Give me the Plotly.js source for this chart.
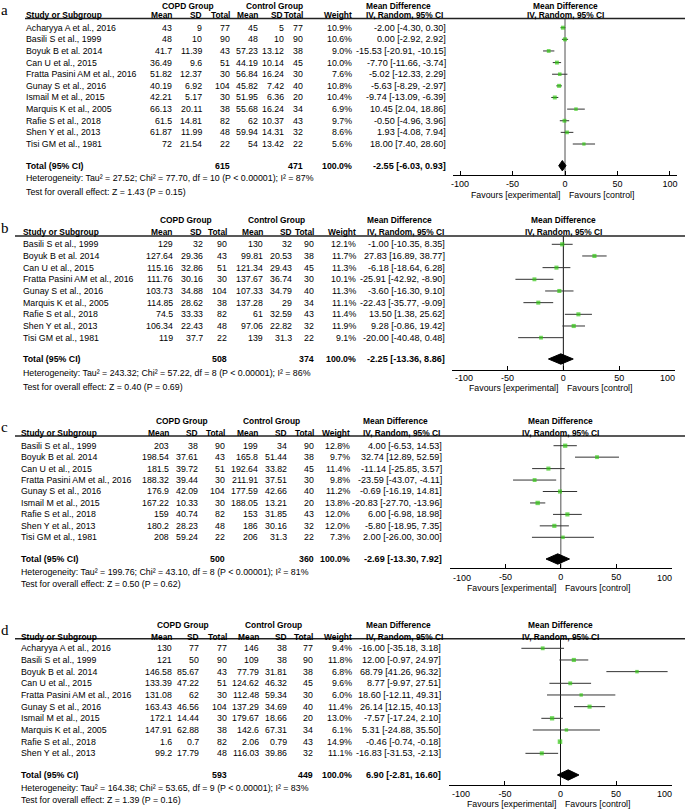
<!DOCTYPE html>
<html><head><meta charset="utf-8">
<script src="https://cdn.plot.ly/plotly-3.0.1.min.js"></script>
<style>html,body{margin:0;padding:0;background:#fff;}#chart{width:685px;height:809px;}</style>
</head><body><div id="chart"></div>
<script>
// ---------- Panel a ----------
const a_studies = ["Acharyya A et al., 2016","Basili S et al., 1999","Boyuk B et al. 2014","Can U et al., 2015","Fratta Pasini AM et al., 2016","Gunay S et al., 2016","Ismail M et al., 2015","Marquis K et al., 2005","Rafie S et al., 2018","Shen Y et al., 2013","Tisi GM et al., 1981"];
const a_copdMean = [43,48,41.7,36.49,51.82,40.19,42.21,66.13,61.5,61.87,72];
const a_copdSD   = [9,10,11.39,9.6,12.37,6.92,5.17,20.11,14.81,11.99,21.54];
const a_copdN    = [77,90,43,51,30,104,30,38,82,48,22];
const a_ctrlMean = [45,48,57.23,44.19,56.84,45.82,51.95,55.68,62,59.94,54];
const a_ctrlSD   = [5,10,13.12,10.14,16.24,7.42,6.36,16.24,10.37,14.31,13.42];
const a_ctrlN    = [77,90,38,45,30,40,20,34,43,32,22];
const a_weight   = [10.9,10.6,9.0,10.0,7.6,10.8,10.4,6.9,9.7,8.6,5.6];
const a_md       = [-2.00,0.00,-15.53,-7.70,-5.02,-5.63,-9.74,10.45,-0.50,1.93,18.00];
const a_lo       = [-4.30,-2.92,-20.91,-11.66,-12.33,-8.29,-13.09,2.04,-4.96,-4.08,7.40];
const a_hi       = [0.30,2.92,-10.15,-3.74,2.29,-2.97,-6.39,18.86,3.96,7.94,28.60];
const a_totalN   = [615,471];
const a_totalMD  = [-2.55,-6.03,0.93];
const a_stats    = ["Heterogeneity: Tau² = 27.52; Chi² = 77.70, df = 10 (P < 0.00001); I² = 87%","Test for overall effect: Z = 1.43 (P = 0.15)"];

// ---------- Panel b ----------
const b_studies = ["Basili S et al., 1999","Boyuk B et al. 2014","Can U et al., 2015","Fratta Pasini AM et al., 2016","Gunay S et al., 2016","Marquis K et al., 2005","Rafie S et al., 2018","Shen Y et al., 2013","Tisi GM et al., 1981"];
const b_copdMean = [129,127.64,115.16,111.76,103.73,114.85,74.5,106.34,119];
const b_copdSD   = [32,29.36,32.86,30.16,34.88,28.62,33.33,22.43,37.7];
const b_copdN    = [90,43,51,30,104,38,82,48,22];
const b_ctrlMean = [130,99.81,121.34,137.67,107.33,137.28,61,97.06,139];
const b_ctrlSD   = [32,20.53,29.43,36.74,34.79,29,32.59,22.82,31.3];
const b_ctrlN    = [90,38,45,30,40,34,43,32,22];
const b_weight   = [12.1,11.7,11.3,10.1,11.3,11.1,11.4,11.9,9.1];
const b_md       = [-1.00,27.83,-6.18,-25.91,-3.60,-22.43,13.50,9.28,-20.00];
const b_lo       = [-10.35,16.89,-18.64,-42.92,-16.30,-35.77,1.38,-0.86,-40.48];
const b_hi       = [8.35,38.77,6.28,-8.90,9.10,-9.09,25.62,19.42,0.48];
const b_totalN   = [508,374];
const b_totalMD  = [-2.25,-13.36,8.86];
const b_stats    = ["Heterogeneity: Tau² = 243.32; Chi² = 57.22, df = 8 (P < 0.00001); I² = 86%","Test for overall effect: Z = 0.40 (P = 0.69)"];

// ---------- Panel c ----------
const c_studies = ["Basili S et al., 1999","Boyuk B et al. 2014","Can U et al., 2015","Fratta Pasini AM et al., 2016","Gunay S et al., 2016","Ismail M et al., 2015","Rafie S et al., 2018","Shen Y et al., 2013","Tisi GM et al., 1981"];
const c_copdMean = [203,198.54,181.5,188.32,176.9,167.22,159,180.2,208];
const c_copdSD   = [38,37.61,39.72,39.44,42.09,10.33,40.74,28.23,59.24];
const c_copdN    = [90,43,51,30,104,30,82,48,22];
const c_ctrlMean = [199,165.8,192.64,211.91,177.59,188.05,153,186,206];
const c_ctrlSD   = [34,51.44,33.82,37.51,42.66,13.21,31.85,30.16,31.3];
const c_ctrlN    = [90,38,45,30,40,20,43,32,22];
const c_weight   = [12.8,9.7,11.4,9.8,11.2,13.8,12.0,12.0,7.3];
const c_md       = [4.00,32.74,-11.14,-23.59,-0.69,-20.83,6.00,-5.80,2.00];
const c_lo       = [-6.53,12.89,-25.85,-43.07,-16.19,-27.70,-6.98,-18.95,-26.00];
const c_hi       = [14.53,52.59,3.57,-4.11,14.81,-13.96,18.98,7.35,30.00];
const c_totalN   = [500,360];
const c_totalMD  = [-2.69,-13.30,7.92];
const c_stats    = ["Heterogeneity: Tau² = 199.76; Chi² = 43.10, df = 8 (P < 0.00001); I² = 81%","Test for overall effect: Z = 0.50 (P = 0.62)"];

// ---------- Panel d ----------
const d_studies = ["Acharyya A et al., 2016","Basili S et al., 1999","Boyuk B et al. 2014","Can U et al., 2015","Fratta Pasini AM et al., 2016","Gunay S et al., 2016","Ismail M et al., 2015","Marquis K et al., 2005","Rafie S et al., 2018","Shen Y et al., 2013"];
const d_copdMean = [130,121,146.58,133.39,131.08,163.43,172.1,147.91,1.6,99.2];
const d_copdSD   = [77,50,85.67,47.22,62,46.56,14.44,62.88,0.7,17.79];
const d_copdN    = [77,90,43,51,30,104,30,38,82,48];
const d_ctrlMean = [146,109,77.79,124.62,112.48,137.29,179.67,142.6,2.06,116.03];
const d_ctrlSD   = [38,38,31.81,46.32,59.34,34.69,18.66,67.31,0.79,39.86];
const d_ctrlN    = [77,90,38,45,30,40,20,34,43,32];
const d_weight   = [9.4,11.8,6.8,9.6,6.0,11.4,13.0,6.1,14.9,11.1];
const d_md       = [-16.00,12.00,68.79,8.77,18.60,26.14,-7.57,5.31,-0.46,-16.83];
const d_lo       = [-35.18,-0.97,41.26,-9.97,-12.11,12.15,-17.24,-24.88,-0.74,-31.53];
const d_hi       = [3.18,24.97,96.32,27.51,49.31,40.13,2.10,35.50,-0.18,-2.13];
const d_totalN   = [593,449];
const d_totalMD  = [6.90,-2.81,16.60];
const d_stats    = ["Heterogeneity: Tau² = 164.38; Chi² = 53.65, df = 9 (P < 0.00001); I² = 83%","Test for overall effect: Z = 1.39 (P = 0.16)"];

const tickVals = [-100,-50,0,50,100];
const tickText = ["-100","-50","0","50","100"];
const groupHeads = ["COPD Group","Control Group","Mean Difference","IV, Random, 95% CI"];
const colHeads = ["Study or Subgroup","Mean","SD","Total","Mean","SD","Total","Weight"];
const favours = ["Favours [experimental]","Favours [control]"];

// ---------- layout constants (pixels) ----------
const W = 685, H = 809;
const FONT = "Liberation Sans, Arial, sans-serif";
const FS = 8.8;       // body text
const FSH = 8.4;      // bold headers
const FSM = 9.1;      // mean-difference column
const GREEN = "#33c814";
const CI_COL = "#333333";

const panels = [
 {label:"a", st:a_studies, cm:a_copdMean, cs:a_copdSD, cn:a_copdN, km:a_ctrlMean, ks:a_ctrlSD, kn:a_ctrlN, w:a_weight, md:a_md, lo:a_lo, hi:a_hi, tn:a_totalN, tmd:a_totalMD, stats:a_stats,
  L:{labelY:10, h1:5.5, h2:15, line:18.5, lineX0:25, row0:27.7, step:11.63, total:165.7, het:178.3, test:192, axis:175, tick:185, fav:195,
     cols:[26,172,201.5,230,258.3,284.3,303.3,351.7,445.7], hcols:[26,172,201.5,230,258.3,282.6,303.3,351.7], copdC:187.5, ctrlC:274, mdL:365.5, fx:[452.7,676.7], xr:[-107,106.4], zc:"#8a8a8a", zw:1.5, endInside:false}},
 {label:"b", st:b_studies, cm:b_copdMean, cs:b_copdSD, cn:b_copdN, km:b_ctrlMean, ks:b_ctrlSD, kn:b_ctrlN, w:b_weight, md:b_md, lo:b_lo, hi:b_hi, tn:b_totalN, tmd:b_totalMD, stats:b_stats,
  L:{labelY:228, h1:220, h2:232.3, line:236, lineX0:15, row0:244.3, step:11.67, total:359, het:372.7, test:386.7, axis:369.5, tick:378.3, fav:388.3,
     cols:[23.3,172.8,203,227.3,263,292.3,313.5,356,445], hcols:[23.3,172,202,227.3,262.5,292,313.8,356], copdC:186, ctrlC:276.5, mdL:366.7, fx:[451.7,675], xr:[-100,100], zc:"#111", zw:1, endInside:true}},
 {label:"c", st:c_studies, cm:c_copdMean, cs:c_copdSD, cn:c_copdN, km:c_ctrlMean, ks:c_ctrlSD, kn:c_ctrlN, w:c_weight, md:c_md, lo:c_lo, hi:c_hi, tn:c_totalN, tmd:c_totalMD, stats:c_stats,
  L:{labelY:427, h1:421, h2:432.7, line:436, lineX0:15, row0:445.7, step:11.45, total:559, het:571.7, test:583.7, axis:567.7, tick:577.7, fav:588,
     cols:[20.7,169,197.7,225,258,287,314,350,441.7], hcols:[20.7,169,197.7,225,258,287,314,350], copdC:182, ctrlC:271, mdL:363.3, fx:[450,671.5], xr:[-100,100], zc:"#8a8a8a", zw:1.5, endInside:true}},
 {label:"d", st:d_studies, cm:d_copdMean, cs:d_copdSD, cn:d_copdN, km:d_ctrlMean, ks:d_ctrlSD, kn:d_ctrlN, w:d_weight, md:d_md, lo:d_lo, hi:d_hi, tn:d_totalN, tmd:d_totalMD, stats:d_stats,
  L:{labelY:630, h1:625, h2:636.7, line:638.8, lineX0:15, row0:648.3, step:11.67, total:775, het:787.7, test:800, axis:785, tick:794.3, fav:804.3,
     cols:[20.7,171.7,199,226.7,259,286.7,313.3,351.7,441], hcols:[20.7,171.7,199,226.7,259,286.7,313.3,351.7], copdC:183, ctrlC:273.5, mdL:365.7, fx:[449.3,671.7], xr:[-100,100], zc:"#111", zw:1, endInside:true}}
];

const px = p => p / W;
const py = p => 1 - p / H;
const fmtMD = (m,l,h) => `${m.toFixed(2)} [${l.toFixed(2)}, ${h.toFixed(2)}]`;

const traces = [], shapes = [], annotations = [], layout = {};

function ann(text, x, y, xanchor, opts, size) {
  const o = Object.assign({text:text, x:x, y:y, xref:"paper", yref:"paper", xanchor:xanchor, yanchor:"middle",
    showarrow:false, borderpad:0, borderwidth:0, font:{family:FONT, size:size || FS, color:"#000"}}, opts || {});
  annotations.push(o);
}

panels.forEach((P, k) => {
  const L = P.L;
  const n = P.st.length;
  const sfx = k === 0 ? "" : String(k + 1);
  const xa = "x" + sfx, ya = "y" + sfx;
  const totIdx = (L.total - L.row0) / L.step;
  const idx = P.st.map((_, i) => i);

  layout["xaxis" + sfx] = {
    domain:[px(L.fx[0]), px(L.fx[1])], range:L.xr, anchor:ya, showgrid:false, zeroline:false,
    showline:true, linecolor:"#000", linewidth:1, ticks:"inside", ticklen:4, tickwidth:1, tickcolor:"#000",
    tickmode:"array", tickvals:tickVals,
    ticktext: L.endInside ? tickText.map((t,i)=> (i===0||i===tickVals.length-1) ? "" : t) : tickText,
    tickfont:{family:FONT, size:9, color:"#000"}, fixedrange:true
  };
  layout["yaxis" + sfx] = {
    domain:[py(L.axis), py(L.line)],
    range:[(L.axis - L.row0) / L.step, (L.line - L.row0) / L.step],
    anchor:xa, visible:false, showgrid:false, zeroline:false, fixedrange:true
  };

  shapes.push({type:"line", xref:xa, yref:ya + " domain", x0:0, x1:0, y0:0, y1:1, line:{color:L.zc, width:L.zw}, layer:"below"});
  shapes.push({type:"line", xref:"paper", yref:"paper", x0:px(L.lineX0), x1:1, y0:py(L.line), y1:py(L.line), line:{color:"#222", width:1.4}});

  traces.push({
    type:"scatter", mode:"markers", x:P.md, y:idx, xaxis:xa, yaxis:ya, cliponaxis:false, hoverinfo:"skip",
    marker:{symbol:"square", size:P.w.map(v => 2.6 + v * 0.13), color:GREEN, line:{width:0}},
    error_x:{type:"data", symmetric:false, array:P.hi.map((h,i)=>h - P.md[i]), arrayminus:P.lo.map((l,i)=>P.md[i] - l),
      width:0, thickness:1, color:CI_COL}
  });
  const hh = 5.2 / L.step;
  const [tm, tl, th] = P.tmd;
  traces.push({
    type:"scatter", mode:"lines", x:[tl, tm, th, tm, tl], y:[totIdx, totIdx - hh, totIdx, totIdx + hh, totIdx],
    xaxis:xa, yaxis:ya, fill:"toself", fillcolor:"#000", line:{color:"#000", width:1}, hoverinfo:"skip", cliponaxis:false
  });

  ann(P.label, px(0.5), py(L.labelY), "left", {font:{family:"Liberation Serif, Times New Roman, serif", size:15, color:"#000"}});

  ann("<b>" + groupHeads[0] + "</b>", px(L.copdC), py(L.h1), "center", null, FSH);
  ann("<b>" + groupHeads[1] + "</b>", px(L.ctrlC), py(L.h1), "center", null, FSH);
  ann("<b>" + groupHeads[2] + "</b>", px(L.mdL), py(L.h1), "left", null, FSH);
  ann("<b>" + groupHeads[2] + "</b>", 0, py(L.h1), "center", {xref:xa}, FSH);
  const C = L.cols, HC = L.hcols;
  ann("<b>" + colHeads[0] + "</b>", px(HC[0]), py(L.h2), "left", null, FSH);
  for (let j = 1; j <= 7; j++) ann("<b>" + colHeads[j] + "</b>", px(HC[j]), py(L.h2), "right", null, FSH);
  ann("<b>" + groupHeads[3] + "</b>", px(L.mdL), py(L.h2), "left", null, FSH);
  ann("<b>" + groupHeads[3] + "</b>", 0, py(L.h2), "center", {xref:xa}, FSH);

  for (let i = 0; i < n; i++) {
    const yo = {yref:ya};
    ann(P.st[i], px(C[0]), i, "left", yo);
    ann(String(P.cm[i]), px(C[1]), i, "right", yo);
    ann(String(P.cs[i]), px(C[2]), i, "right", yo);
    ann(String(P.cn[i]), px(C[3]), i, "right", yo);
    ann(String(P.km[i]), px(C[4]), i, "right", yo);
    ann(String(P.ks[i]), px(C[5]), i, "right", yo);
    ann(String(P.kn[i]), px(C[6]), i, "right", yo);
    ann(P.w[i].toFixed(1) + "%", px(C[7]), i, "right", yo);
    ann(fmtMD(P.md[i], P.lo[i], P.hi[i]), px(C[8]), i, "right", yo, FSM);
  }
  const yo = {yref:ya};
  ann("<b>Total (95% CI)</b>", px(C[0]), totIdx, "left", yo);
  ann("<b>" + P.tn[0] + "</b>", px(C[3]), totIdx, "right", yo);
  ann("<b>" + P.tn[1] + "</b>", px(C[6]), totIdx, "right", yo);
  ann("<b>100.0%</b>", px(C[7]), totIdx, "right", yo);
  ann("<b>" + fmtMD(tm, tl, th) + "</b>", px(C[8]), totIdx, "right", yo, FSM);
  ann(P.stats[0], px(C[0]), py(L.het), "left");
  ann(P.stats[1], px(C[0]), py(L.test), "left");

  if (L.endInside) {
    ann(tickText[0], tickVals[0], py(L.tick), "left", {xref:xa, xshift:3}, 9);
    ann(tickText[4], tickVals[4], py(L.tick), "right", {xref:xa}, 9);
  }
  ann(favours[0], 0, py(L.fav), "right", {xref:xa, xshift:-5});
  ann(favours[1], 0, py(L.fav), "left", {xref:xa, xshift:4});
});

Object.assign(layout, {
  width:W, height:H, margin:{l:0, r:0, t:0, b:0}, showlegend:false,
  paper_bgcolor:"#fff", plot_bgcolor:"rgba(0,0,0,0)",
  font:{family:FONT, size:FS, color:"#000"},
  shapes:shapes, annotations:annotations
});

Plotly.newPlot("chart", traces, layout, {displayModeBar:false, staticPlot:true});
</script></body></html>
